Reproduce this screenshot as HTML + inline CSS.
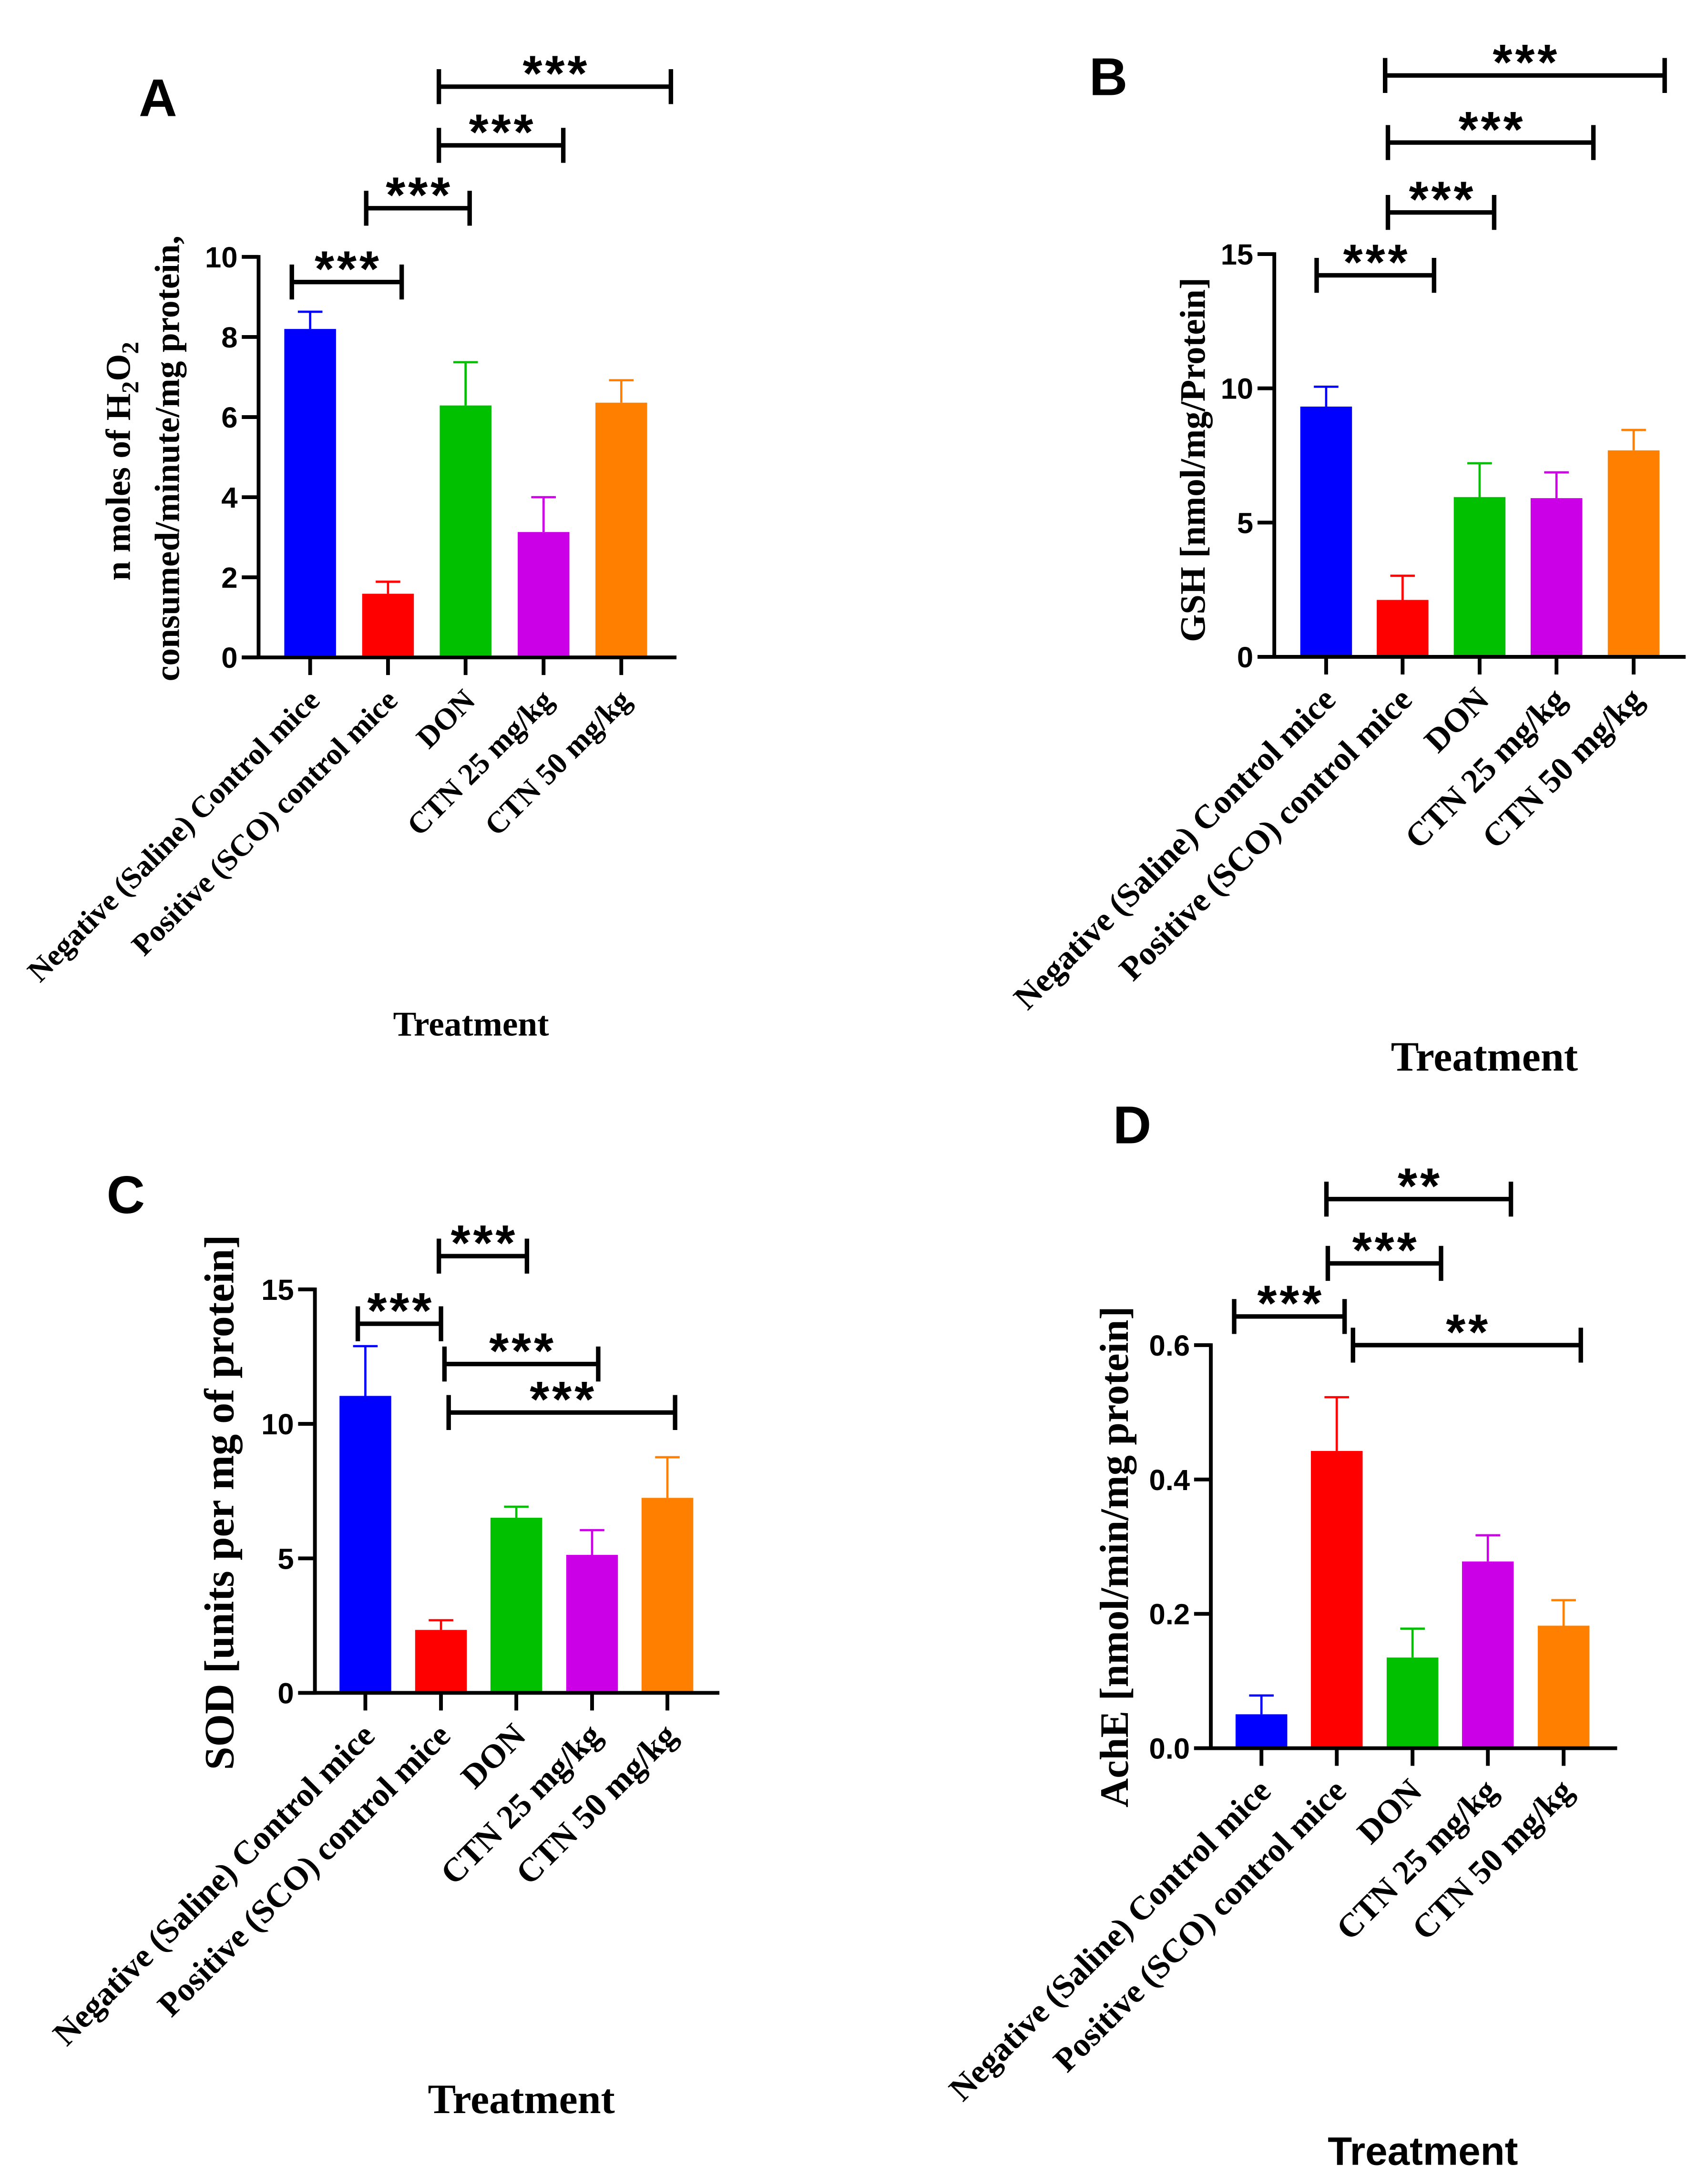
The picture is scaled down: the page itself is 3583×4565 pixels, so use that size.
<!DOCTYPE html>
<html><head><meta charset="utf-8"><style>
html,body{margin:0;padding:0;background:#fff;}
svg{display:block;}
</style></head><body>
<svg id="fig" xmlns="http://www.w3.org/2000/svg" width="3583" height="4565" viewBox="0 0 1222 1557" preserveAspectRatio="none">
<rect x="0" y="0" width="1222" height="1557" fill="#fff"/>
</svg>
<script>
const categories = ["Negative (Saline) Control mice","Positive (SCO) control mice","DON","CTN 25 mg/kg","CTN 50 mg/kg"];
const barColors = ["#0000ff","#ff0000","#00c000","#cc00e6","#ff8000"];
const valuesA = [8.2, 1.59, 6.29, 3.13, 6.36];
const errorsA = [0.43, 0.30, 1.08, 0.87, 0.56];
const ticksA = [0, 2, 4, 6, 8, 10];
const valuesB = [9.32, 2.12, 5.95, 5.91, 7.69];
const errorsB = [0.74, 0.90, 1.26, 0.96, 0.76];
const ticksB = [0, 5, 10, 15];
const valuesC = [11.04, 2.34, 6.51, 5.13, 7.25];
const errorsC = [1.85, 0.36, 0.41, 0.92, 1.51];
const ticksC = [0, 5, 10, 15];
const valuesD = [0.0505, 0.4425, 0.135, 0.278, 0.1824];
const errorsD = [0.028, 0.080, 0.043, 0.039, 0.038];
const ticksD = [0, 0.2, 0.4, 0.6];
const tickLabelsD = ["0.0","0.2","0.4","0.6"];

const NS = "http://www.w3.org/2000/svg";
const svg = document.getElementById('fig');
function mk(tag, attrs, parent){
  const e = document.createElementNS(NS, tag);
  for (const k in attrs) e.setAttribute(k, attrs[k]);
  (parent || svg).appendChild(e);
  return e;
}

const panels = [
 {id:'a', letter:'A', lx:113, ly:83, values:valuesA, errors:errorsA, ticks:ticksA, tickLabels:ticksA.map(String), max:10,
  ax:185, y0:470.4, yTop:183.8, xEnd:484, cx:[221.9,277.6,333.1,388.9,444.5], bw:37, tickFont:21, labFont:21.8,
  tx:337, ty:741, tFont:25, tSerif:true,
  ytitle:[{x:93,y:330,text:'n moles of H',sub:true},{x:128,y:328,text:'consumed/minute/mg protein,'}], yFont:25,
  brackets:[{x1:208.8,x2:287.4,y:201.8,s:'***'},{x1:262,x2:336,y:149,s:'***'},{x1:314,x2:403,y:104,s:'***'},{x1:314,x2:480,y:62,s:'***'}]},
 {id:'b', letter:'B', lx:793, ly:68, values:valuesB, errors:errorsB, ticks:ticksB, tickLabels:ticksB.map(String), max:15,
  ax:911.7, y0:470, yTop:181.8, xEnd:1206, cx:[948.8,1003.5,1058.6,1113.6,1168.8], bw:37, tickFont:21, labFont:24,
  tx:1062, ty:766, tFont:30, tSerif:true,
  ytitle:[{x:862,y:329,text:'GSH [nmol/mg/Protein]'}], yFont:25.5,
  brackets:[{x1:942,x2:1026,y:197,s:'***'},{x1:993,x2:1069,y:152,s:'***'},{x1:993,x2:1140,y:102,s:'***'},{x1:991,x2:1191,y:54,s:'***'}]},
 {id:'c', letter:'C', lx:90, ly:868, values:valuesC, errors:errorsC, ticks:ticksC, tickLabels:ticksC.map(String), max:15,
  ax:225.3, y0:1211.3, yTop:922.6, xEnd:514.7, cx:[261.4,315.5,369.4,423.6,477.5], bw:37, tickFont:21, labFont:24,
  tx:373, ty:1512, tFont:30, tSerif:true,
  ytitle:[{x:167,y:1075,text:'SOD [units per mg of protein]'}], yFont:30,
  brackets:[{x1:256,x2:315.5,y:947.2,s:'***'},{x1:314,x2:377,y:898.8,s:'***'},{x1:318,x2:428,y:976,s:'***'},{x1:321,x2:483,y:1010.7,s:'***'}]},
 {id:'d', letter:'D', lx:810, ly:818, values:valuesD, errors:errorsD, ticks:ticksD, tickLabels:tickLabelsD, max:0.6,
  ax:866.3, y0:1250.9, yTop:962.5, xEnd:1157, cx:[902.5,956.4,1010.6,1064.5,1118.7], bw:37, tickFont:21, labFont:24,
  tx:1018, ty:1549, tFont:28.5, tSerif:false,
  ytitle:[{x:807,y:1114,text:'AchE [nmol/min/mg protein]'}], yFont:29,
  brackets:[{x1:883,x2:962,y:942,s:'***'},{x1:950,x2:1031,y:904,s:'***'},{x1:968,x2:1131,y:962.5,s:'**'},{x1:949,x2:1081,y:858,s:'**'}]}
];

const SANS = '"Liberation Sans", Arial, sans-serif';
const SERIF = '"Liberation Serif", "Times New Roman", serif';

panels.forEach(p => {
  const g = mk('g', {});
  
  
  const yScale = v => p.y0 - (v / p.max) * (p.y0 - p.yTop);

  const letter = mk('text', {x:p.lx, y:p.ly, 'text-anchor':'middle', 'font-family':SANS, 'font-weight':'bold', 'font-size':38}, g);
  letter.textContent = p.letter;
  
  

  p.values.forEach((v, i) => {
    const top = yScale(v);
    const bar = mk('rect', {x:p.cx[i]-p.bw/2, y:top, width:p.bw, height:p.y0-top, fill:barColors[i]}, g);
    
    
    const et = yScale(v + p.errors[i]);
    const eb = mk('path', {d:`M${p.cx[i]},${top} V${et} M${p.cx[i]-8.8},${et} H${p.cx[i]+8.8}`, stroke:barColors[i], 'stroke-width':1.6, fill:'none'}, g);
    
    
  });

  const yAxis = mk('line', {x1:p.ax, y1:p.yTop-1.3, x2:p.ax, y2:p.y0+1.3, stroke:'#000', 'stroke-width':2.7}, g);
  
  
  const xAxis = mk('line', {x1:p.ax-12, y1:p.y0, x2:p.xEnd, y2:p.y0, stroke:'#000', 'stroke-width':2.7}, g);
  
  

  p.ticks.forEach((t, i) => {
    const yy = yScale(t);
    const tk = mk('line', {x1:p.ax-12, y1:yy, x2:p.ax, y2:yy, stroke:'#000', 'stroke-width':2.7}, g);
    
    
    const tl = mk('text', {x:p.ax-15, y:yy+7.5, 'text-anchor':'end', 'font-family':SANS, 'font-weight':'bold', 'font-size':p.tickFont}, g);
    tl.textContent = p.tickLabels[i];
    
    
  });

  categories.forEach((c, i) => {
    const tk = mk('line', {x1:p.cx[i], y1:p.y0, x2:p.cx[i], y2:p.y0+12.6, stroke:'#000', 'stroke-width':2.7}, g);
    
    
    const ax = p.cx[i] + 8, ay = p.y0 + 32;
    const tl = mk('text', {x:ax, y:ay, 'text-anchor':'end', transform:`rotate(-45 ${ax} ${ay})`, 'font-family':SERIF, 'font-weight':'bold', 'font-size':p.labFont}, g);
    tl.textContent = c;
    
    
  });

  const xt = mk('text', {x:p.tx, y:p.ty, 'text-anchor':'middle', 'font-family':p.tSerif?SERIF:SANS, 'font-weight':'bold', 'font-size':p.tFont}, g);
  xt.textContent = 'Treatment';
  
  

  p.ytitle.forEach(t => {
    const yt = mk('text', {x:t.x, y:t.y, 'text-anchor':'middle', transform:`rotate(-90 ${t.x} ${t.y})`, 'font-family':SERIF, 'font-weight':'bold', 'font-size':p.yFont}, g);
    
    
    if (t.sub) {
      yt.appendChild(document.createTextNode('n moles of H'));
      const s1 = mk('tspan', {'font-size':p.yFont*0.7, dy:6}, yt); s1.textContent = '2';
      const s2 = mk('tspan', {dy:-6}, yt); s2.textContent = 'O';
      const s3 = mk('tspan', {'font-size':p.yFont*0.7, dy:6}, yt); s3.textContent = '2';
    } else {
      yt.textContent = t.text;
    }
  });

  p.brackets.forEach(b => {
    const br = mk('path', {d:`M${b.x1},${b.y-12.5} V${b.y+12.5} M${b.x1},${b.y} H${b.x2} M${b.x2},${b.y-12.5} V${b.y+12.5}`, stroke:'#000', 'stroke-width':3.2, fill:'none'}, g);
    
    
    const st = mk('text', {x:(b.x1+b.x2)/2 + 1, y:b.y + 3, 'text-anchor':'middle', 'font-family':SANS, 'font-weight':'bold', 'font-size':36, 'letter-spacing':2}, g);
    st.textContent = b.s;
    
    
  });
});
</script>
</body></html>
